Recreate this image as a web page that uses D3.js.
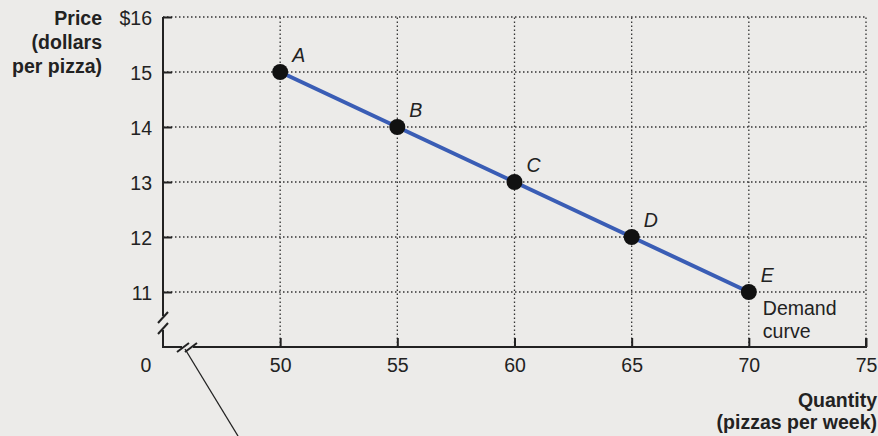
<!DOCTYPE html>
<html><head><meta charset="utf-8">
<script src="https://cdn.jsdelivr.net/npm/d3@7"></script>
<style>
html,body{margin:0;padding:0;background:#ecebe9;}
svg{display:block;font-family:"Liberation Sans",Arial,Helvetica,sans-serif;}
</style></head>
<body><svg id="c" width="878" height="436"></svg>
<script>
const quantities = [50, 55, 60, 65, 70];
const prices = [15, 14, 13, 12, 11];
const pointLabels = ["A", "B", "C", "D", "E"];
const xTicks = [50, 55, 60, 65, 70, 75];
const yTicks = [11, 12, 13, 14, 15, 16];
const yTickLabels = ["11", "12", "13", "14", "15", "$16"];
const yTitle = ["Price", "(dollars", "per pizza)"];
const xTitle = ["Quantity", "(pizzas per week)"];
const curveLabel = ["Demand", "curve"];

const FS = 19.5;
const svg = d3.select("#c");
const x = d3.scaleLinear().domain([45, 75]).range([163, 866]);
const y = d3.scaleLinear().domain([10, 16]).range([347, 17]);
const ink = "#222";

// grid
const g = svg.append("g");
g.selectAll(".hg").data(yTicks).join("line")
  .attr("x1", x(45)).attr("x2", x(75)).attr("y1", d => y(d)).attr("y2", d => y(d))
  .attr("stroke", "#333").attr("stroke-width", 1.3).attr("stroke-dasharray", "1.5,2.5");
g.selectAll(".vg").data(xTicks).join("line")
  .attr("x1", d => x(d)).attr("x2", d => x(d)).attr("y1", y(10)).attr("y2", y(16))
  .attr("stroke", "#333").attr("stroke-width", 1.3).attr("stroke-dasharray", "1.5,2.5");

// axes
const yAxis = d3.axisLeft(y).tickValues(yTicks).tickSize(-9).tickFormat((d, i) => yTickLabels[i]).tickPadding(11);
const xAxis = d3.axisBottom(x).tickValues(xTicks).tickSize(-9).tickFormat(d3.format("d")).tickPadding(11);
const ya = svg.append("g").attr("transform", `translate(${x(45)},0)`).call(yAxis);
const xa = svg.append("g").attr("transform", `translate(0,${y(10)})`).call(xAxis);
[ya, xa].forEach(a => {
  a.attr("font-size", FS).attr("font-family", null);
  a.select(".domain").remove();
  a.selectAll(".tick line").attr("stroke", ink).attr("stroke-width", 2);
  a.selectAll(".tick text").attr("fill", ink);
});
ya.selectAll(".tick text").attr("dy", "0.36em");
xa.selectAll(".tick text").attr("dy", "0.72em");

// axis lines with breaks
const ax = svg.append("g").attr("stroke", ink).attr("stroke-width", 2).attr("fill", "none");
ax.append("path").attr("d", `M${x(45)},${y(16)}V${y(10) - 31}`);
ax.append("path").attr("d", `M${x(45)},${y(10) - 17}V${y(10)}H${x(45) + 19}`);
ax.append("path").attr("d", `M${x(45) + 30},${y(10)}H${x(75)}V${y(10) - 9}`);
// break slashes on y
ax.append("path").attr("d", `M${x(45) - 5},${y(10) - 24}L${x(45) + 5},${y(10) - 35}`);
ax.append("path").attr("d", `M${x(45) - 5},${y(10) - 13}L${x(45) + 5},${y(10) - 24}`);
// break slashes on x
ax.append("path").attr("d", `M${x(45) + 14},${y(10) + 5}L${x(45) + 26},${y(10) - 4}`);
ax.append("path").attr("d", `M${x(45) + 22},${y(10) + 5}L${x(45) + 34},${y(10) - 4}`);
// callout line
ax.append("path").attr("stroke-width", 1.3).attr("d", `M${x(45) + 22},${y(10) + 2}L${x(45) + 75},${436}`);

// zero label
svg.append("text").attr("x", x(45) - 17).attr("y", y(10) + 25).attr("text-anchor", "middle")
  .attr("font-size", FS).attr("fill", ink).text("0");

// demand line
const data = quantities.map((q, i) => ({q, p: prices[i], l: pointLabels[i]}));
svg.append("path").datum(data)
  .attr("d", d3.line().x(d => x(d.q)).y(d => y(d.p)))
  .attr("fill", "none").attr("stroke", "#3a5db5").attr("stroke-width", 4);
svg.selectAll(".pt").data(data).join("circle")
  .attr("cx", d => x(d.q)).attr("cy", d => y(d.p)).attr("r", 8).attr("fill", "#111");
svg.selectAll(".pl").data(data).join("text")
  .attr("x", d => x(d.q) + 12).attr("y", d => y(d.p) - 10)
  .attr("font-size", FS).attr("font-style", "italic").attr("fill", ink).text(d => d.l);

// Demand curve label
svg.selectAll(".dc").data(curveLabel).join("text")
  .attr("x", x(70) + 14).attr("y", (d, i) => y(11) + 23 + i * 23)
  .attr("font-size", FS).attr("fill", ink).text(d => d);

// titles
svg.selectAll(".yt").data(yTitle).join("text")
  .attr("x", 102).attr("y", (d, i) => 25 + i * 24).attr("text-anchor", "end")
  .attr("font-size", FS).attr("font-weight", "bold").attr("fill", ink).text(d => d);
svg.selectAll(".xt").data(xTitle).join("text")
  .attr("x", 877).attr("y", (d, i) => 407 + i * 22).attr("text-anchor", "end")
  .attr("font-size", FS).attr("font-weight", "bold").attr("fill", ink).text(d => d);
</script></body></html>
